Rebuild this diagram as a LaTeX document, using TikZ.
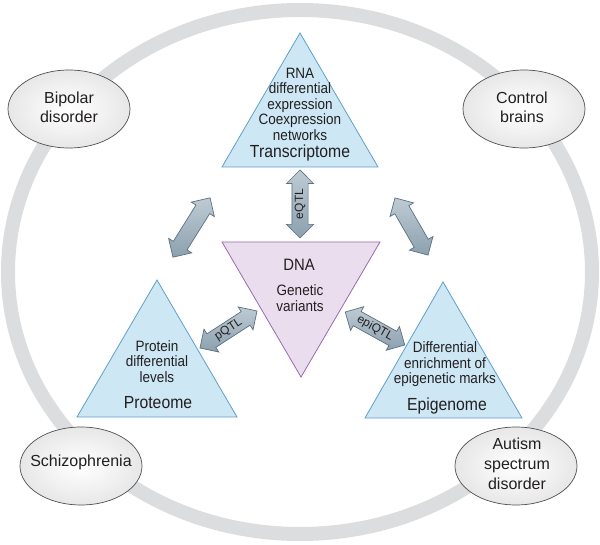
\documentclass[tikz,border=0pt]{standalone}
\usepackage{fontspec}
\setmainfont{Liberation Sans}
\newfontfamily\condfont{Liberation Sans}[FakeStretch=0.9]
\usetikzlibrary{shapes.arrows,shapes.geometric}
\definecolor{ringgray}{RGB}{220,221,223}
\definecolor{trifill}{RGB}{205,231,245}
\definecolor{tridraw}{RGB}{95,160,200}
\definecolor{dnafill}{RGB}{234,222,238}
\definecolor{dnadraw}{RGB}{155,105,175}
\definecolor{arrowlight}{RGB}{190,203,212}
\definecolor{arrowdark}{RGB}{140,160,174}
\definecolor{arrowdraw}{RGB}{90,112,127}
\definecolor{ellin}{RGB}{242,242,242}
\definecolor{ellmid}{RGB}{218,218,218}
\definecolor{ellout}{RGB}{195,195,195}
\definecolor{elldraw}{RGB}{80,80,80}
\definecolor{txt}{RGB}{35,31,32}
\pgfdeclareradialshading{ellshade}{\pgfpoint{0bp}{0bp}}{color(0bp)=(white); color(14bp)=(ellin); color(38bp)=(ellmid); color(50bp)=(ellout)}
\tikzset{
  tri/.style={fill=trifill, draw=tridraw, line width=0.8pt, line join=miter},
  dnatri/.style={fill=dnafill, draw=dnadraw, line width=0.8pt, line join=miter},
  qarrow/.style={double arrow, draw=arrowdraw, line width=0.7pt,
    top color=arrowlight, bottom color=arrowdark,
    double arrow head extend=5.5pt, minimum height=68pt,
    inner xsep=1pt, inner ysep=2.5pt, text height=8.3pt, text depth=2.2pt,
    font=\fontsize{12}{12}\selectfont, text=txt},
  disease/.style={ellipse, draw=elldraw, line width=0.7pt, shading=ellshade,
    minimum width=122pt, minimum height=78pt, inner sep=0pt},
  smalltxt/.style={font=\condfont\fontsize{15}{15.5}\selectfont, align=center, text=txt, inner sep=0pt},
  bigtxt/.style={font=\condfont\fontsize{17.5}{18}\selectfont, text=txt, inner sep=0pt, anchor=base},
  distxt/.style={font=\fontsize{16}{19.6}\selectfont, align=center, text=txt, inner sep=0pt}
}
\begin{document}
\begin{tikzpicture}[x=1pt,y=-1pt]
\useasboundingbox (0,0) rectangle (600,545);
\fill[white] (0,0) rectangle (600,545);
% ring
\draw[ringgray, line width=14pt] (300,272) ellipse [x radius=292, y radius=262];
% disease ellipses
\node[disease] (bipE) at (69,109) {};
\node[disease] (conE) at (524,109) {};
\node[disease] (schE) at (81,466) {};
\node[disease] (autE) at (516,466) {};
\node[distxt] (bipT) at (69,107.3) {Bipolar\\disorder};
\node[distxt] (conT) at (522,107.3) {Control\\brains};
\node[distxt] (schT) at (81,462.6) {Schizophrenia};
\node[distxt] (autT) at (517,463.7) {Autism\\spectrum\\disorder};
% triangles
\coordinate (tA) at (300,33);
\coordinate (tB) at (222,167);
\coordinate (tC) at (378,167);
\filldraw[tri] (tA) -- (tB) -- (tC) -- cycle;
\coordinate (pA) at (157,280);
\coordinate (pB) at (77,417);
\coordinate (pC) at (237,417);
\filldraw[tri] (pA) -- (pB) -- (pC) -- cycle;
\coordinate (eA) at (443,282);
\coordinate (eB) at (365,418);
\coordinate (eC) at (522,418);
\filldraw[tri] (eA) -- (eB) -- (eC) -- cycle;
\coordinate (dA) at (222,242);
\coordinate (dB) at (380,242);
\coordinate (dC) at (301,377);
\filldraw[dnatri] (dA) -- (dB) -- (dC) -- cycle;
% triangle texts
\node[smalltxt] (trS) at (300,104.4) {RNA\\differential\\expression\\Coexpression\\networks};
\node[bigtxt] (trB) at (300,158) {Transcriptome};
\node[bigtxt, font=\condfont\fontsize{16.5}{18}\selectfont] (dnaB) at (299,270.7) {DNA};
\node[smalltxt] (dnaS) at (300,298.2) {Genetic\\variants};
\node[smalltxt] (prS) at (157,361.3) {Protein\\differential\\levels};
\node[bigtxt] (prB) at (158,408.3) {Proteome};
\node[smalltxt] (epS) at (445,364.5) {Differential\\enrichment of\\epigenetic marks};
\node[bigtxt] (epB) at (447,410) {Epigenome};
% arrows
\node[qarrow, rotate=90] (eqtl) at (300,204) {eQTL};
\node[qarrow, rotate=58, minimum height=70pt] (ltarr) at (191.5,227.5) {};
\node[qarrow, rotate=-60, minimum height=66pt] (rtarr) at (411.5,226.5) {};
\node[qarrow, rotate=33] (pqtl) at (228.5,329.5) {pQTL};
\node[qarrow, rotate=-29] (epiqtl) at (375,328.5) {epiQTL};
\end{tikzpicture}
\end{document}
